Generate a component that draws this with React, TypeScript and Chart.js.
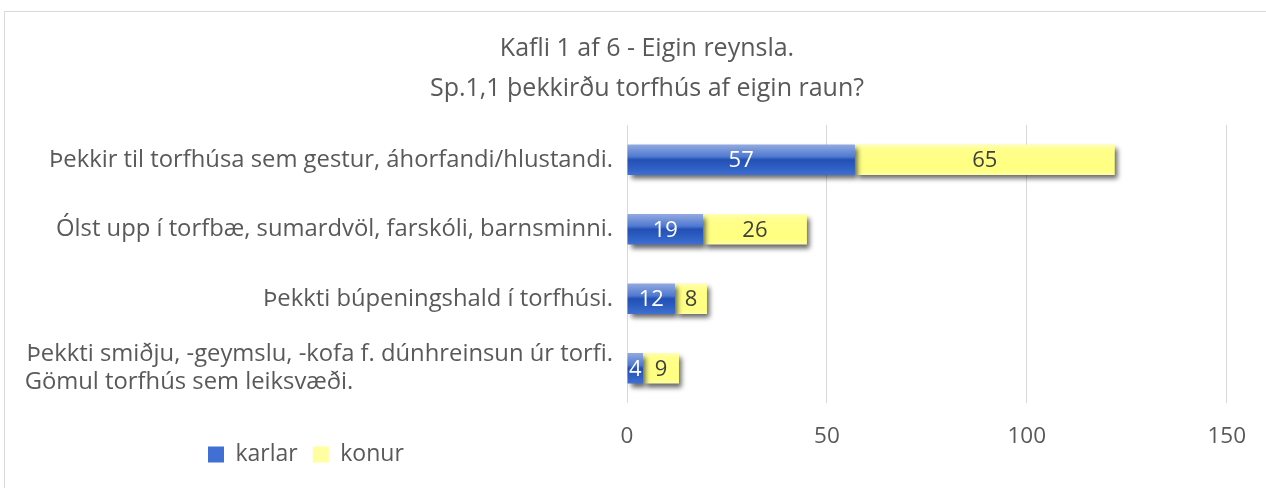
import React, { useEffect, useRef } from "react";
import { Chart, registerables } from "chart.js";

Chart.register(...registerables);

const categories: (string | string[])[] = [
  "Þekkir til torfhúsa sem gestur, áhorfandi/hlustandi.",
  "Ólst upp í torfbæ, sumardvöl, farskóli, barnsminni.",
  "Þekkti búpeningshald í torfhúsi.",
  ["Þekkti smiðju, -geymslu, -kofa f. dúnhreinsun úr torfi.", "Gömul torfhús sem leiksvæði."],
];
const karlar = [57, 19, 12, 4];
const konur = [65, 26, 8, 9];
const seriesNames = ["karlar", "konur"];
const xTicks = [0, 50, 100, 150];
const titleLines = ["Kafli 1 af 6 - Eigin reynsla.", "Sp.1,1 þekkirðu torfhús af eigin raun?"];

const FONT = "'Open Sans'";
const TEXT = "#595959";
const LABEL_SIZE = 23.8;
const BAR_PCT = 0.44;

function padLeftAligned(lines: string[]): string[] {
  const c = document.createElement("canvas").getContext("2d")!;
  c.font = `${LABEL_SIZE}px ${FONT}`;
  const maxW = Math.max(...lines.map((l) => c.measureText(l).width));
  return lines.map((l) => {
    let s = l;
    while (c.measureText(s + " ").width <= maxW + 2) s += " ";
    return s;
  });
}

function barGradient(ctx: any, stops: [number, string][], solid: string) {
  if (ctx.type !== "data") return solid;
  const chart = ctx.chart;
  const ys = chart.scales?.y;
  const area = chart.chartArea;
  if (!ys || !area) return solid;
  const c = ys.getPixelForValue(ctx.dataIndex);
  const band = (area.bottom - area.top) / categories.length;
  const h = band * BAR_PCT;
  const g = chart.ctx.createLinearGradient(0, c - h / 2, 0, c + h / 2);
  stops.forEach(([o, col]) => g.addColorStop(o, col));
  return g;
}

const blueStops: [number, string][] = [
  [0, "#93aae0"],
  [0.4, "#4f79d0"],
  [0.5, "#2350b4"],
  [0.78, "#2f60c4"],
  [1, "#4070d3"],
];
const yellowStops: [number, string][] = [
  [0, "#ffffb4"],
  [0.18, "#ffff8a"],
  [0.82, "#ffff80"],
  [1, "#ffffa0"],
];

const shadowPlugin = {
  id: "barShadow",
  beforeDatasetsDraw(chart: any) {
    const ctx = chart.ctx;
    ctx.save();
    ctx.shadowColor = "rgba(0,0,0,0.6)";
    ctx.shadowBlur = 5;
    ctx.shadowOffsetX = 3;
    ctx.shadowOffsetY = 4;
  },
  afterDatasetsDraw(chart: any) {
    chart.ctx.restore();
  },
};

const valueLabelPlugin = {
  id: "valueLabels",
  afterDraw(chart: any) {
    const ctx = chart.ctx;
    ctx.save();
    ctx.font = `22px ${FONT}`;
    ctx.textAlign = "center";
    ctx.textBaseline = "middle";
    chart.data.datasets.forEach((ds: any, di: number) => {
      const meta = chart.getDatasetMeta(di);
      ctx.fillStyle = di === 0 ? "#ffffff" : "#404040";
      meta.data.forEach((el: any, i: number) => {
        const x = (el.x + el.base) / 2;
        ctx.fillText(String(ds.data[i]), x, el.y + 1);
      });
    });
    ctx.restore();
  },
};

const placePlugin = {
  id: "placeBoxes",
  afterLayout(chart: any) {
    const lg = chart.legend;
    if (lg) {
      const w = lg.right - lg.left;
      lg.left = 189;
      lg.right = 189 + w;
      lg.top = 417;
      lg.bottom = chart.height;
      lg.height = lg.bottom - lg.top;
    }
    const tb = chart.titleBlock;
    if (tb) {
      tb.left += 12;
      tb.right += 12;
    }
  },
};

export default function App() {
  const ref = useRef<HTMLCanvasElement>(null);
  useEffect(() => {
    if (!ref.current) return;
    const chart = new Chart(ref.current, {
      type: "bar",
      data: {
        labels: categories as any,
        datasets: [
          {
            label: seriesNames[0],
            data: karlar,
            backgroundColor: (c: any) => barGradient(c, blueStops, "#4a74cc"),
            borderWidth: 0,
            barPercentage: BAR_PCT,
            categoryPercentage: 1,
          },
          {
            label: seriesNames[1],
            data: konur,
            backgroundColor: (c: any) => barGradient(c, yellowStops, "#ffff9a"),
            borderWidth: 0,
            barPercentage: BAR_PCT,
            categoryPercentage: 1,
          },
        ],
      },
      options: {
        indexAxis: "y",
        animation: false,
        responsive: true,
        maintainAspectRatio: false,
        layout: { padding: 0 },
        scales: {
          x: {
            stacked: true,
            min: 0,
            max: 150,
            afterBuildTicks: (s: any) => {
              s.ticks = xTicks.map((v) => ({ value: v }));
            },
            afterFit: (s: any) => {
              s.height = 50;
            },
            grid: { color: "#d9d9d9", lineWidth: 1, drawTicks: false },
            border: { display: false },
            ticks: {
              color: TEXT,
              font: { family: FONT, size: 22.5 },
              padding: 20,
            },
          },
          y: {
            stacked: true,
            afterFit: (s: any) => {
              s.width = 623;
            },
            grid: { display: false, drawTicks: false },
            border: { display: false },
            ticks: {
              color: TEXT,
              font: { family: FONT, size: LABEL_SIZE, lineHeight: 1.17 },
              padding: 14,
              callback: (_v: any, i: number) => {
                const l = categories[i];
                return Array.isArray(l) ? padLeftAligned(l) : l;
              },
            },
          },
        },
        plugins: {
          title: {
            display: true,
            text: titleLines,
            color: TEXT,
            font: { family: FONT, size: 25, weight: "normal", lineHeight: 1.6 },
            padding: { top: 18, bottom: 16 },
          },
          legend: {
            position: "bottom",
            align: "start",
            maxHeight: 35,
            labels: {
              color: TEXT,
              font: { family: FONT, size: 23 },
              boxWidth: 16,
              boxHeight: 16,
              padding: 15,
            },
          },
          tooltip: { enabled: false },
        },
      },
      plugins: [shadowPlugin, valueLabelPlugin, placePlugin],
    });
    return () => chart.destroy();
  }, []);

  return (
    <div
      style={{
        position: "fixed",
        left: 0,
        top: 0,
        width: 1266,
        height: 488,
        overflow: "hidden",
        background: "#ffffff",
      }}
    >
      <div
        style={{
          position: "absolute",
          left: 4,
          top: 11,
          width: 1262,
          height: 477,
          borderTop: "1px solid #d9d9d9",
          borderLeft: "1px solid #d9d9d9",
          boxSizing: "border-box",
        }}
      />
      <div style={{ position: "absolute", left: 4, top: 11, width: 1262, height: 477 }}>
        <canvas ref={ref} />
      </div>
    </div>
  );
}
